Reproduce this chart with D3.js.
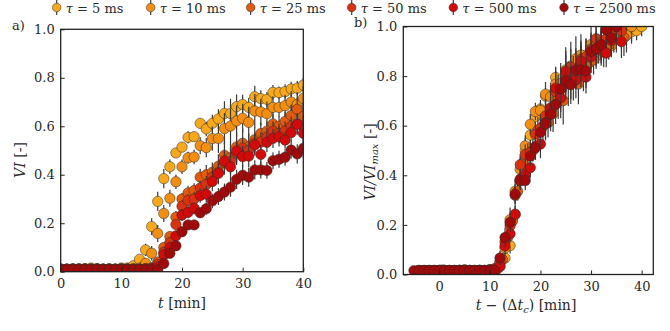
<!DOCTYPE html>
<html lang="en">
<head>
	<meta charset="utf-8">
	<script src="https://d3js.org/d3.v7.min.js"></script>
	<style>
		body { margin: 0; background: #fff; }
		text { font-family: "DejaVu Serif", serif; fill: #2a2a2a; }
	</style>
</head>
<body>
	<script type="text/javascript">

		var svgWidth = 670;
		var svgHeight = 331;
		var serif = "'DejaVu Serif', serif";

		// sampling times (min)
		var times = d3.range(0, 41);

		// legend labels and colours
		var tauLabels = ["5", "10", "25", "50", "500", "2500"];
		var tauColors = ["#f7a81b", "#f28e12", "#e25a0c", "#da3210", "#d20a0a", "#a00a0a"];

		// shift of each series for panel b (min)
		var shifts = [0, 2, 3.5, 4, 4, 5];

		// VI values, t = 0..40
		var vi5 = [0.01,0.01,0.012,0.01,0.012,0.015,0.012,0.01,0.012,0.01,0.015,0.015,0.025,
			0.051,0.09,0.186,0.29,0.384,0.433,0.49,0.514,0.554,0.557,
			0.612,0.589,0.612,0.63,0.653,0.653,0.681,0.69,0.678,0.722,
			0.714,0.711,0.74,0.739,0.743,0.754,0.757,0.77];
		var vi10 = [0.01,0.01,0.01,0.012,0.01,0.01,0.012,0.01,0.01,0.01,0.012,0.01,0.012,
			0.015,0.035,0.076,0.158,0.24,0.303,0.371,0.433,0.47,0.473,
			0.52,0.512,0.549,0.55,0.59,0.601,0.622,0.633,0.616,0.663,
			0.659,0.652,0.678,0.678,0.685,0.7,0.69,0.715];
		var vi25 = [0.01,0.01,0.01,0.01,0.012,0.01,0.01,0.01,0.01,0.01,0.01,0.01,0.01,
			0.01,0.012,0.015,0.04,0.1,0.145,0.225,0.3,0.325,0.335,
			0.39,0.4,0.41,0.435,0.48,0.47,0.515,0.53,0.515,0.545,
			0.57,0.58,0.61,0.6,0.62,0.645,0.67,0.64];
		var vi50 = [0.01,0.01,0.01,0.01,0.01,0.01,0.01,0.01,0.01,0.01,0.01,0.01,0.01,
			0.01,0.012,0.015,0.03,0.08,0.12,0.195,0.27,0.295,0.3,
			0.345,0.36,0.39,0.41,0.45,0.455,0.49,0.51,0.5,0.53,
			0.535,0.555,0.58,0.57,0.58,0.6,0.61,0.6];
		var vi500 = [0.01,0.01,0.01,0.01,0.01,0.01,0.01,0.01,0.01,0.01,0.01,0.01,0.01,
			0.01,0.01,0.012,0.02,0.07,0.1,0.148,0.234,0.245,0.262,
			0.314,0.32,0.372,0.406,0.457,0.433,0.498,0.475,0.477,0.523,
			0.484,0.534,0.55,0.557,0.543,0.574,0.608,0.571];
		var vi2500 = [0.008,0.008,0.008,0.008,0.008,0.008,0.008,0.008,0.008,0.008,0.008,0.008,0.008,
			0.008,0.008,0.008,0.008,0.034,0.076,0.107,0.165,0.193,0.193,
			0.243,0.26,0.292,0.31,0.329,0.349,0.381,0.398,0.39,0.42,
			0.42,0.418,0.458,0.464,0.472,0.502,0.486,0.509];

		// error bar half lengths
		var err5 = [0,0,0,0,0,0,0,0,0,0,0,0.005,0.01,
			0.015,0.025,0.035,0.04,0.04,0.03,0.02,0.02,0.025,0.02,
			0.02,0.03,0.035,0.04,0.05,0.06,0.05,0.04,0.04,0.045,
			0.035,0.03,0.03,0.025,0.03,0.03,0.03,0.03];
		var err10 = [0,0,0,0,0,0,0,0,0,0,0,0,0,
			0.005,0.02,0.03,0.035,0.035,0.035,0.03,0.03,0.025,0.03,
			0.035,0.04,0.05,0.06,0.065,0.07,0.065,0.06,0.065,0.07,
			0.055,0.05,0.045,0.04,0.045,0.045,0.05,0.05];
		var err25 = [0,0,0,0,0,0,0,0,0,0,0,0,0,
			0,0,0,0.015,0.02,0.02,0.025,0.025,0.03,0.03,
			0.035,0.04,0.04,0.05,0.06,0.065,0.06,0.06,0.055,0.05,
			0.045,0.04,0.04,0.04,0.04,0.045,0.05,0.05];
		var err50 = [0,0,0,0,0,0,0,0,0,0,0,0,0,
			0,0,0,0.01,0.02,0.02,0.02,0.025,0.025,0.03,
			0.03,0.035,0.04,0.045,0.05,0.055,0.05,0.045,0.045,0.045,
			0.04,0.04,0.04,0.04,0.04,0.04,0.045,0.045];
		var err500 = [0,0,0,0,0,0,0,0,0,0,0,0,0,
			0,0,0,0.01,0.02,0.02,0.02,0.025,0.025,0.025,
			0.03,0.035,0.04,0.045,0.05,0.05,0.05,0.045,0.045,0.045,
			0.04,0.04,0.04,0.04,0.035,0.04,0.04,0.04];
		var err2500 = [0,0,0,0,0,0,0,0,0,0,0,0,0,
			0,0,0,0,0.015,0.02,0.02,0.02,0.02,0.02,
			0.02,0.025,0.03,0.035,0.035,0.04,0.04,0.04,0.04,0.04,
			0.035,0.035,0.035,0.035,0.035,0.035,0.04,0.04];

		var viSeries = [vi5, vi10, vi25, vi50, vi500, vi2500];
		var errSeries = [err5, err10, err25, err50, err500, err2500];

		var yTicks = [0, 0.2, 0.4, 0.6, 0.8, 1.0];
		var xTicksA = [0, 10, 20, 30, 40];
		var xTicksB = [0, 10, 20, 30, 40];

		var svg = d3.select("body")
			.append("svg")
			.attr("width", svgWidth)
			.attr("height", svgHeight);

		// panel a scales
		var xA = d3.scaleLinear().domain([0, 40]).range([60.7, 303.3]);
		var yA = d3.scaleLinear().domain([0, 1]).range([271.7, 29.3]);
		// panel b scales
		var xB = d3.scaleLinear().domain([-7.1, 42.3]).range([403.3, 653.3]);
		var yB = d3.scaleLinear().domain([0, 1]).range([274.5, 26.5]);

		function drawPanel(id, x, y, xTicks, pointsFor) {
			var g = svg.append("g");
			var x0 = x.range()[0], x1 = x.range()[1];
			var y0 = y.range()[1], y1 = y.range()[0];

			g.append("clipPath").attr("id", "clip" + id)
				.append("rect")
				.attr("x", x0).attr("y", y0)
				.attr("width", x1 - x0).attr("height", y1 - y0);

			var plot = g.append("g").attr("clip-path", "url(#clip" + id + ")");

			viSeries.forEach(function(vals, s) {
				var pts = pointsFor(s);
				var sg = plot.append("g");
				sg.selectAll("line")
					.data(pts.filter(function(d) { return d.e > 0; }))
					.enter()
					.append("line")
						.attr("x1", function(d) { return x(d.x); })
						.attr("x2", function(d) { return x(d.x); })
						.attr("y1", function(d) { return y(d.v - d.e); })
						.attr("y2", function(d) { return y(d.v + d.e); })
						.attr("stroke", "#3a3a3a")
						.attr("stroke-width", 1.2);
				sg.selectAll("circle")
					.data(pts)
					.enter()
					.append("circle")
						.attr("cx", function(d) { return x(d.x); })
						.attr("cy", function(d) { return y(d.v); })
						.attr("r", 5.2)
						.attr("fill", tauColors[s])
						.attr("stroke", "#2a2a2a")
						.attr("stroke-width", 0.5);
			});

			// axes with inward ticks
			var xAxis = d3.axisBottom(x).tickValues(xTicks).tickSize(-4).tickPadding(7)
				.tickFormat(d3.format("d"));
			var yAxis = d3.axisLeft(y).tickValues(yTicks).tickSize(-4).tickPadding(6)
				.tickFormat(d3.format(".1f"));

			var gx = g.append("g")
				.attr("transform", "translate(0," + y1 + ")")
				.call(xAxis);
			var gy = g.append("g")
				.attr("transform", "translate(" + x0 + ",0)")
				.call(yAxis);
			[gx, gy].forEach(function(ax) {
				ax.attr("font-family", null).attr("font-size", null);
				ax.select(".domain").remove();
				ax.selectAll("line").attr("stroke", "#222").attr("stroke-width", 1);
				ax.selectAll("text")
					.style("font-family", serif)
					.style("font-size", "13px")
					.attr("fill", "#2a2a2a");
			});
			gx.selectAll("text").attr("dy", "0.75em");

			g.append("rect")
				.attr("x", x0).attr("y", y0)
				.attr("width", x1 - x0).attr("height", y1 - y0)
				.attr("fill", "none")
				.attr("stroke", "#222")
				.attr("stroke-width", 1.3);
			return g;
		}

		drawPanel("a", xA, yA, xTicksA, function(s) {
			return times.map(function(t, i) {
				return { x: t, v: viSeries[s][i], e: errSeries[s][i] };
			});
		});

		drawPanel("b", xB, yB, xTicksB, function(s) {
			var vmax = d3.max(viSeries[s]);
			return times.map(function(t, i) {
				return { x: t - shifts[s], v: viSeries[s][i] / vmax, e: errSeries[s][i] / vmax };
			});
		});

		// panel letters
		svg.append("text").attr("x", 12).attr("y", 30).style("font-size", "13px").text("a)");
		svg.append("text").attr("x", 354).attr("y", 27).style("font-size", "13px").text("b)");

		// axis labels
		var xlabA = svg.append("text").attr("x", 182).attr("y", 308)
			.attr("text-anchor", "middle").style("font-size", "14px");
		xlabA.append("tspan").style("font-style", "italic").text("t");
		xlabA.append("tspan").text(" [min]");

		var ylabA = svg.append("text")
			.attr("transform", "translate(25,160) rotate(-90)")
			.attr("text-anchor", "middle").style("font-size", "14px");
		ylabA.append("tspan").style("font-style", "italic").text("VI");
		ylabA.append("tspan").text(" [-]");

		var xlabB = svg.append("text").attr("x", 526).attr("y", 310)
			.attr("text-anchor", "middle").style("font-size", "14px");
		xlabB.append("tspan").style("font-style", "italic").text("t");
		xlabB.append("tspan").text(" \u2212 (\u0394");
		xlabB.append("tspan").style("font-style", "italic").text("t");
		xlabB.append("tspan").style("font-style", "italic").style("font-size", "10px").attr("dy", 3).text("c");
		xlabB.append("tspan").attr("dy", -3).text(") [min]");

		var ylabB = svg.append("text")
			.attr("transform", "translate(375,162) rotate(-90)")
			.attr("text-anchor", "middle").style("font-size", "14px");
		ylabB.append("tspan").style("font-style", "italic").text("VI/VI");
		ylabB.append("tspan").style("font-style", "italic").style("font-size", "10px").attr("dy", 3).text("max");
		ylabB.append("tspan").attr("dy", -3).text(" [-]");

		// legend
		var legendX = [56.7, 150.7, 250.7, 351.7, 453.3, 564];
		var legend = svg.append("g");
		tauLabels.forEach(function(lab, i) {
			var lx = legendX[i];
			legend.append("line")
				.attr("x1", lx).attr("x2", lx).attr("y1", 0).attr("y2", 15)
				.attr("stroke", "#3a3a3a").attr("stroke-width", 1.2);
			legend.append("circle")
				.attr("cx", lx).attr("cy", 7.5).attr("r", 4.3)
				.attr("fill", tauColors[i]).attr("stroke", "#2a2a2a").attr("stroke-width", 0.5);
			var t = legend.append("text").attr("x", lx + 9).attr("y", 12.5).style("font-size", "13px");
			t.append("tspan").style("font-style", "italic").text("\u03c4");
			t.append("tspan").text(" = " + lab + " ms");
		});

	</script>
</body>
</html>
